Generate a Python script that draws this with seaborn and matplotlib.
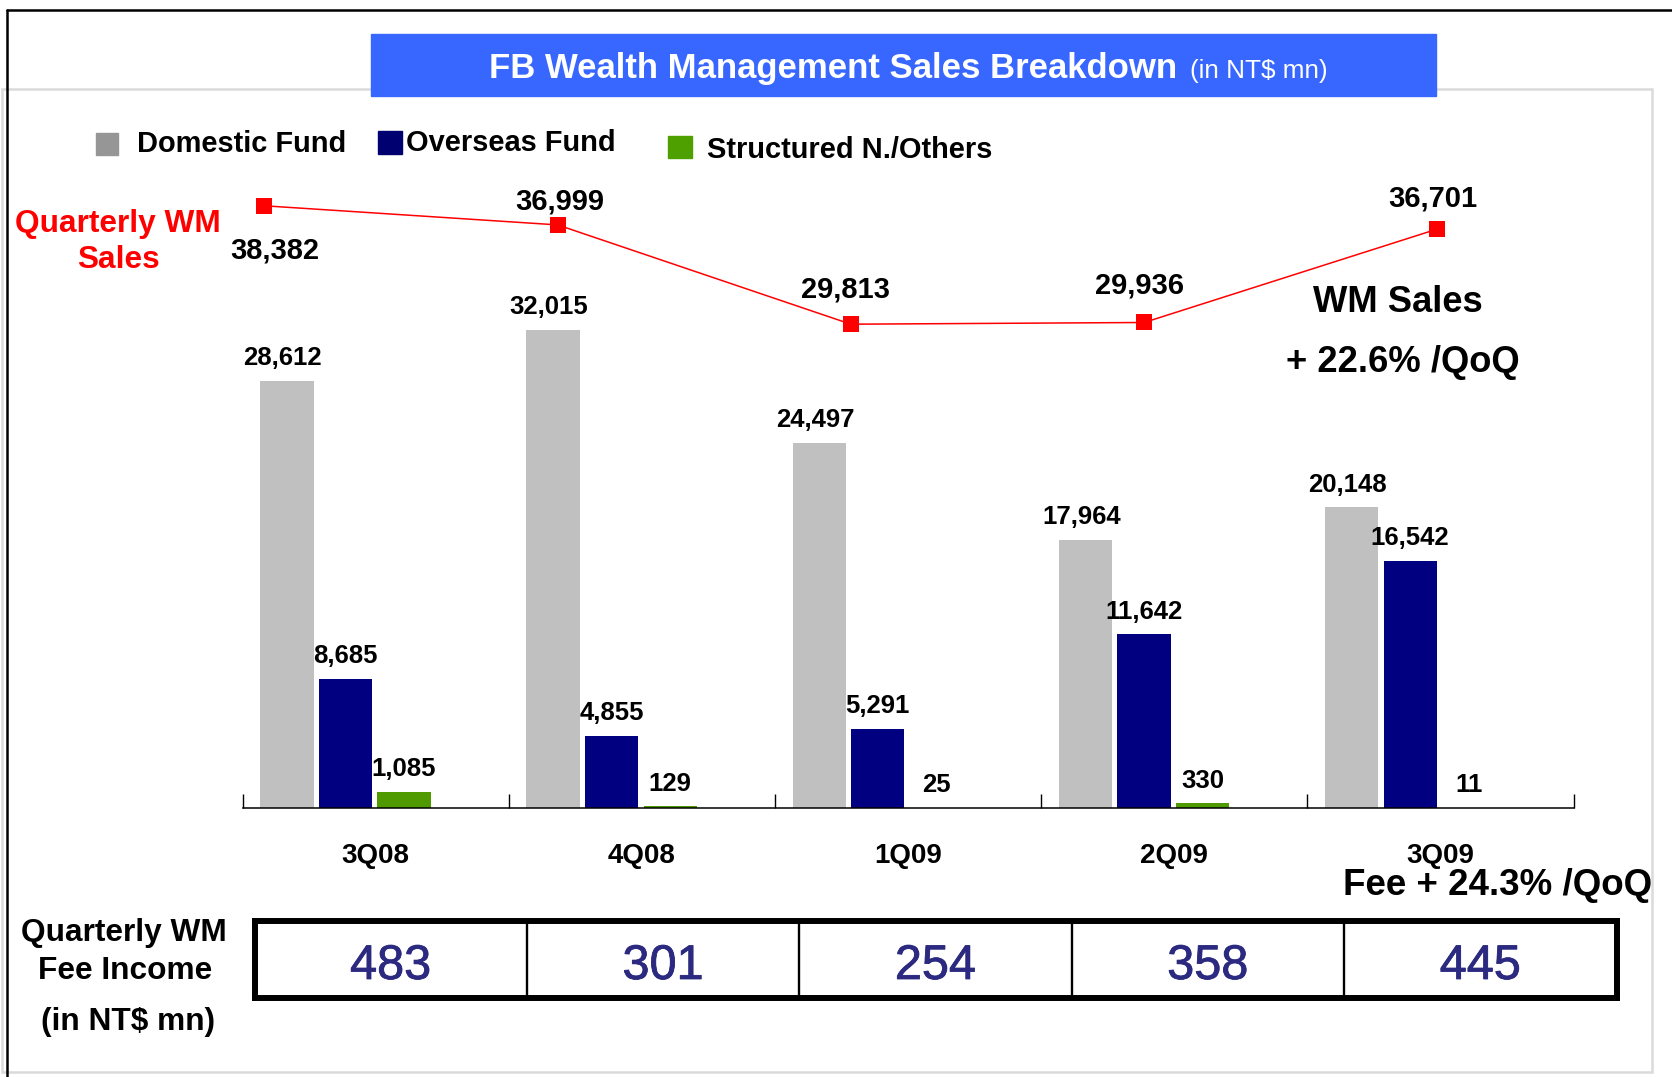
import numpy as np
import pandas as pd
import matplotlib
matplotlib.use("Agg")
import matplotlib.pyplot as plt
import matplotlib.patheffects as pe
import seaborn as sns
from matplotlib.patches import Rectangle
from matplotlib.lines import Line2D

# data
quarters = ["3Q08", "4Q08", "1Q09", "2Q09", "3Q09"]
domestic = [28612, 32015, 24497, 17964, 20148]
overseas = [8685, 4855, 5291, 11642, 16542]
structured = [1085, 129, 25, 330, 11]
wm_sales = [38382, 36999, 29813, 29936, 36701]
fee_income = [483, 301, 254, 358, 445]
series_names = ["Domestic Fund", "Overseas Fund", "Structured N./Others"]

sns.set_theme(style="white")
plt.rcParams["font.family"] = ["Liberation Sans", "DejaVu Sans"]
plt.rcParams["text.color"] = "black"
plt.rcParams["axes.labelcolor"] = "black"

W, H = 1672, 1077
fig = plt.figure(figsize=(W / 100, H / 100), dpi=100)
fig.patch.set_facecolor("white")


def fx(px):
    return px / W


def fy(py):
    return 1 - py / H


#frame lines of the slide
fig.add_artist(Rectangle((fx(1.7), fy(1072)), fx(1652) - fx(1.7), (1072 - 89) / H,
                         transform=fig.transFigure, fill=False, edgecolor="#DADADA", lw=1.8, zorder=0))
fig.add_artist(Line2D([fx(7), fx(1672)], [fy(10), fy(10)], transform=fig.transFigure, color="black", lw=1.8))
fig.add_artist(Line2D([fx(7), fx(7)], [fy(10), fy(1077)], transform=fig.transFigure, color="black", lw=1.8))

#title banner
fig.add_artist(Rectangle((fx(371), fy(95.7)), fx(1436) - fx(371), (95.7 - 34) / H,
                         transform=fig.transFigure, color="#3867FF", zorder=2))
fig.text(fx(1177), fy(78.3), "FB Wealth Management Sales Breakdown", ha="right", va="baseline",
         color="white", fontsize=25, fontweight="bold", zorder=3)
fig.text(fx(1190), fy(78.3), "(in NT$ mn)", ha="left", va="baseline", color="white", fontsize=18.8, zorder=3)

#legend drawn by hand (irregular spacing on the slide)
legend_colors = ["#969696", "#000070", "#4EA000"]
legend_boxes = [(96, 133.3, 118.3, 155), (378.3, 131, 402.3, 154.3), (668, 135.5, 691.7, 158.3)]
legend_text = [(136.7, 151.7), (406, 151), (706.7, 158.3)]
for name, c, (x0, y0, x1, y1), (tx, ty) in zip(series_names, legend_colors, legend_boxes, legend_text):
    fig.add_artist(Rectangle((fx(x0), fy(y1)), fx(x1) - fx(x0), (y1 - y0) / H,
                             transform=fig.transFigure, color=c))
    fig.text(fx(tx), fy(ty), name, ha="left", va="baseline", fontsize=20.9, fontweight="bold")

#bar chart
ax_l, ax_r, ax_base, ax_top = 242.7, 1573.6, 808.3, 150
ax_rect = [fx(ax_l), fy(ax_base), fx(ax_r) - fx(ax_l), (ax_base - ax_top) / H]
ax = fig.add_axes(ax_rect)

bar_colors = ["#C0C0C0", "#000080", "#4E9A00"]
slot_offset = [-0.334, -0.114, 0.106]
label_dx = [-3, 0, 0]

bars = pd.DataFrame({
    "quarter": quarters * 3,
    "series": np.repeat(series_names, len(quarters)),
    "value": domestic + overseas + structured,
})
qidx = {q: i for i, q in enumerate(quarters)}

for name, c, off, dx in zip(series_names, bar_colors, slot_offset, label_dx):
    sub = bars[bars["series"] == name].copy()
    sub["pos"] = sub["quarter"].map(qidx) + off
    sns.barplot(data=sub, x="pos", y="value", native_scale=True, width=0.2, color=c,
                saturation=1, linewidth=0, errorbar=None, ax=ax)
    for p, v in zip(sub["pos"], sub["value"]):
        ax.annotate(f"{v:,}", (p, v), xytext=(dx, 11.4), textcoords="offset points",
                    ha="center", va="baseline", fontsize=18.5, fontweight="bold")

ax.set_xlim(-0.5, 4.5)
ax.set_ylim(0, 44092)
ax.set_xlabel("")
ax.set_ylabel("")
ax.set_yticks([])
ax.set_xticks(np.arange(-0.5, 5, 1))
ax.set_xticklabels([])
ax.tick_params(axis="x", direction="in", length=10, width=1, color="black", bottom=True)
for s in ["top", "left", "right"]:
    ax.spines[s].set_visible(False)
ax.spines["bottom"].set_color("black")
ax.spines["bottom"].set_linewidth(1.1)
ax.patch.set_alpha(0)
for i, q in enumerate(quarters):
    ax.text(i, -54.4 / (ax_base - ax_top), q, transform=ax.get_xaxis_transform(),
            ha="center", va="baseline", fontsize=20, fontweight="bold")

#total WM sales line on its own scale
ax2 = fig.add_axes(ax_rect)
sns.lineplot(x=np.arange(len(wm_sales)), y=wm_sales, color="#FF0000", linewidth=1.1,
             marker="s", markersize=11.5, markeredgewidth=0, ax=ax2)
ax2.set_xlim(-0.074, 4.4645)
ax2.set_ylim(-5224, 42420)
ax2.set_axis_off()
line_dx = [7.2, 1.4, -3.6, -3.6, -3.6]
line_dy = [-37.9, 11.2, 19.4, 20.8, 16.2]
for i, v in enumerate(wm_sales):
    ax2.annotate(f"{v:,}", (i, v), xytext=(line_dx[i], line_dy[i]), textcoords="offset points",
                 ha="center", va="baseline", fontsize=21, fontweight="bold")

#side notes
fig.text(fx(118.3), fy(231.7), "Quarterly WM", ha="center", va="baseline", color="#FF0000",
         fontsize=22.8, fontweight="bold")
fig.text(fx(118.3), fy(268.3), "Sales", ha="center", va="baseline", color="#FF0000",
         fontsize=22.8, fontweight="bold")
fig.text(fx(1397.5), fy(311.7), "WM Sales", ha="center", va="baseline", fontsize=26.2, fontweight="bold")
fig.text(fx(1402.5), fy(371.5), "+ 22.6% /QoQ", ha="center", va="baseline", fontsize=26.2, fontweight="bold")
fig.text(fx(1651.7), fy(895), "Fee + 24.3% /QoQ", ha="right", va="baseline", fontsize=26.5, fontweight="bold")

fig.text(fx(124), fy(941), "Quarterly WM", ha="center", va="baseline", fontsize=22.8, fontweight="bold")
fig.text(fx(124.8), fy(979), "Fee Income", ha="center", va="baseline", fontsize=22.8, fontweight="bold")
fig.text(fx(128), fy(1030), "(in NT$ mn)", ha="center", va="baseline", fontsize=22.8, fontweight="bold")

#fee income table
t_l, t_r, t_top, t_bot = 254.5, 1616.5, 921, 997.5
tax = fig.add_axes([fx(t_l), fy(t_bot), fx(t_r) - fx(t_l), (t_bot - t_top) / H])
tax.set_xlim(0, len(fee_income))
tax.set_ylim(0, 1)
tax.set_xticks([])
tax.set_yticks([])
for s in tax.spines.values():
    s.set_visible(True)
    s.set_color("black")
    s.set_linewidth(4.3)
for i in range(1, len(fee_income)):
    tax.axvline(i, color="black", lw=1.7)
for i, v in enumerate(fee_income):
    tax.text(i + 0.5, 0.242, str(v), ha="center", va="baseline", fontsize=35, color="#2B2A80",
             path_effects=[pe.withStroke(linewidth=0.6, foreground="#2B2A80")])

fig.savefig("out.png", dpi=100)
